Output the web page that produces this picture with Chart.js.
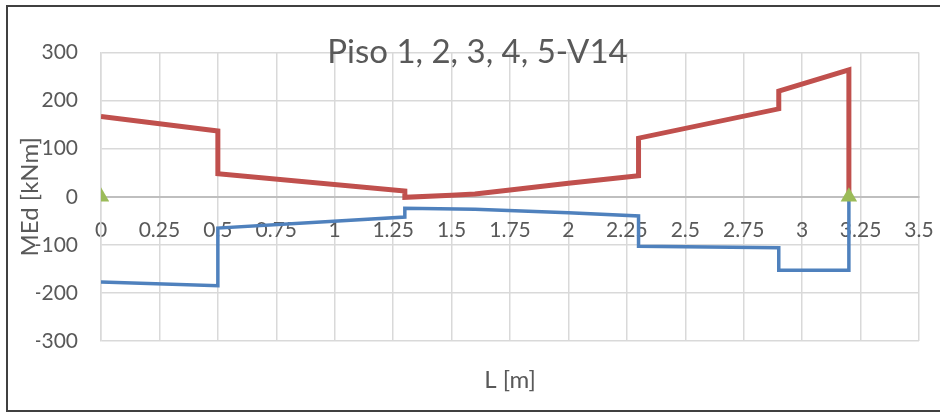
<!DOCTYPE html>
<html>
<head>
<meta charset="utf-8">
<script src="https://cdn.jsdelivr.net/npm/chart.js@4/dist/chart.umd.min.js"></script>
<style>
  html, body { margin: 0; padding: 0; background: #ffffff; overflow: hidden; }
  #wrap { position: relative; width: 940px; height: 412px; }
  #frame { position: absolute; left: 6px; top: 5px; width: 1000px; height: 407px; box-sizing: border-box; border: 2px solid #404040; pointer-events: none; }
  canvas { position: absolute; left: 0; top: 0; }
</style>
</head>
<body>
<div id="wrap">
  <canvas id="c" width="940" height="412"></canvas>
  <div id="frame"></div>
</div>
<script>
// Chart text
const chartTitle = 'Piso 1, 2, 3, 4, 5-V14';
const xTitle = 'L [m]';
const yTitle = 'MEd [kNm]';

// Tick labels
const xTickLabels = ['0', '0.25', '0.5', '0.75', '1', '1.25', '1.5', '1.75', '2', '2.25', '2.5', '2.75', '3', '3.25', '3.5'];
const yTickLabels = ['-300', '-200', '-100', '0', '100', '200', '300'];

// Positive moment envelope (red)
const posX = [0, 0.5, 0.5, 1.3, 1.3, 1.5, 1.6, 1.75, 2, 2.3, 2.3, 2.9, 2.9, 3.2, 3.2];
const posM = [167, 137, 48, 12, -1, 3, 6, 14, 28, 44, 122, 183, 220, 264, 0];

// Negative moment envelope (blue)
const negX = [0, 0.5, 0.5, 1.3, 1.3, 1.6, 2, 2.3, 2.3, 2.9, 2.9, 3.2, 3.2];
const negM = [-177, -185, -65, -42, -24, -26, -33, -40, -103, -106, -153, -153, 0];

// Supports (green triangles)
const supX = [0, 3.2];
const supM = [0, 0];

const toPts = (xs, ys) => xs.map((x, i) => ({ x: x, y: ys[i] }));

const FONT = 'Lato';
const TXT = '#595959';
const GRID = '#d9d9d9';

new Chart(document.getElementById('c'), {
  type: 'scatter',
  data: {
    datasets: [
      {
        label: 'Apoyos',
        data: toPts(supX, supM),
        showLine: false,
        pointStyle: 'triangle',
        pointRadius: 9.5,
        pointBackgroundColor: '#9BBB59',
        pointBorderColor: '#9BBB59',
        pointBorderWidth: 0
      },
      {
        label: 'M+',
        data: toPts(posX, posM),
        showLine: true,
        borderColor: '#C0504D',
        borderWidth: 5,
        pointRadius: 0,
        tension: 0,
        borderJoinStyle: 'miter'
      },
      {
        label: 'M-',
        data: toPts(negX, negM),
        showLine: true,
        borderColor: '#4F81BD',
        borderWidth: 3.5,
        pointRadius: 0,
        tension: 0,
        borderJoinStyle: 'miter'
      }
    ]
  },
  options: {
    responsive: false,
    animation: false,
    devicePixelRatio: 1,
    layout: { padding: { left: 36, right: 21, top: 0, bottom: 0 } },
    plugins: {
      legend: { display: false },
      tooltip: { enabled: false },
      title: {
        display: true,
        text: chartTitle,
        color: TXT,
        font: { family: FONT, size: 33, weight: 'normal', lineHeight: 1.2 },
        padding: { top: 33, bottom: -20 }
      }
    },
    scales: {
      x: {
        type: 'linear',
        position: { y: 0 },
        min: 0,
        max: 3.5,
        ticks: {
          stepSize: 0.25,
          autoSkip: false,
          maxRotation: 0,
          padding: 0,
          color: TXT,
          font: { family: FONT, size: 21, lineHeight: 1.2 },
          callback: (v, i) => xTickLabels[i]
        },
        grid: { color: GRID, lineWidth: 1.5, drawTicks: true, tickLength: 21, tickColor: 'rgba(0,0,0,0)' },
        border: { display: true, color: '#bfbfbf', width: 2 }
      },
      x2: {
        type: 'linear',
        position: 'bottom',
        min: 0,
        max: 3.5,
        ticks: { display: false },
        grid: { display: false, drawTicks: false },
        border: { display: false },
        title: {
          display: true,
          text: xTitle,
          color: TXT,
          font: { family: FONT, size: 24, lineHeight: 1.2 },
          padding: { top: 0, bottom: 17 }
        },
        afterFit: (s) => { s.height = 71; }
      },
      y: {
        type: 'linear',
        position: 'left',
        min: -300,
        max: 300,
        ticks: {
          stepSize: 100,
          padding: 23,
          color: TXT,
          font: { family: FONT, size: 21, lineHeight: 1.2 },
          callback: (v, i) => yTickLabels[i]
        },
        grid: { color: GRID, lineWidth: 1.5, drawTicks: false },
        border: { display: true, color: GRID, width: 1.5 },
        title: {
          display: true,
          text: yTitle,
          color: TXT,
          font: { family: FONT, size: 24, lineHeight: 1.2 },
          padding: { top: -20.4, bottom: 0 }
        },
        afterFit: (s) => { s.width = 65; }
      }
    }
  }
});
</script>
</body>
</html>
